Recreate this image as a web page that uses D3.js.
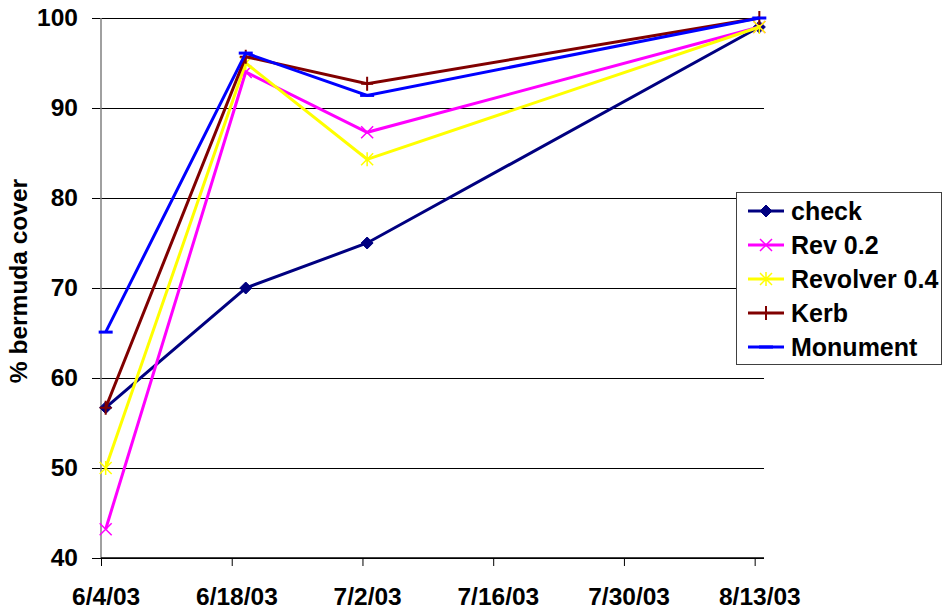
<!DOCTYPE html>
<html>
<head>
<meta charset="utf-8">
<script src="https://cdn.jsdelivr.net/npm/d3@7/dist/d3.min.js"></script>
<style>
  html, body { margin: 0; padding: 0; background: #fff; }
  svg { display: block; font-family: "Liberation Sans", Arial, sans-serif; }
</style>
</head>
<body>
<svg id="chart" width="942" height="614"></svg>
<script>
// Sampling dates (bermuda grass cover ratings)
const sampleDates = ["2003-06-04", "2003-06-19", "2003-07-02", "2003-08-13"];

// % bermuda cover per treatment
const check       = [56.7, 70.0, 75.0, 99.0];
const rev02       = [43.2, 94.0, 87.3, 99.0];
const revolver04  = [50.0, 95.0, 84.3, 99.0];
const kerb        = [56.7, 95.7, 92.7, 100.0];
const monument    = [65.1, 96.1, 91.4, 100.0];

const seriesNames = ["check", "Rev 0.2", "Revolver 0.4", "Kerb", "Monument"];

// Axis ticks
const xTickDates  = ["2003-06-04", "2003-06-18", "2003-07-02", "2003-07-16", "2003-07-30", "2003-08-13"];
const xTickLabels = ["6/4/03", "6/18/03", "7/2/03", "7/16/03", "7/30/03", "8/13/03"];
const yTicks      = [40, 50, 60, 70, 80, 90, 100];

const parse = d3.utcParse("%Y-%m-%d");
const HALF_DAY = 12 * 3600 * 1000;

const series = [
  { name: seriesNames[0], values: check,      color: "#000080", marker: "diamond" },
  { name: seriesNames[1], values: rev02,      color: "#FF00FF", marker: "x" },
  { name: seriesNames[2], values: revolver04, color: "#FFFF00", marker: "asterisk" },
  { name: seriesNames[3], values: kerb,       color: "#800000", marker: "plus" },
  { name: seriesNames[4], values: monument,   color: "#0000FF", marker: "dash" }
];

const svg = d3.select("#chart");

const x = d3.scaleUtc()
  .domain([parse("2003-06-04"), parse("2003-08-14")])
  .range([101, 764]);
const y = d3.scaleLinear().domain([40, 100]).range([558, 18]);

const halfDayPx = x(new Date(parse("2003-06-04").getTime() + HALF_DAY)) - x(parse("2003-06-04"));

// Horizontal gridlines (with outward tick marks) and y labels
const yAxis = svg.append("g")
  .attr("transform", "translate(101,0)")
  .call(d3.axisLeft(y).tickValues(yTicks).tickSize(9).tickPadding(14).tickFormat(d3.format("d")));
yAxis.select(".domain").remove();
yAxis.selectAll(".tick line").attr("x1", -9).attr("x2", 663).attr("stroke", "#000").attr("stroke-width", 1);
yAxis.selectAll(".tick text")
  .attr("font-size", 24.5).attr("font-weight", "bold").attr("fill", "#000")
  .attr("font-family", "Liberation Sans, Arial, sans-serif");

// Vertical value axis line
svg.append("line")
  .attr("x1", 101).attr("x2", 101).attr("y1", 18).attr("y2", 558)
  .attr("stroke", "#808080").attr("stroke-width", 1.5);

// Date axis
const xAxis = svg.append("g")
  .attr("transform", "translate(0,558)")
  .call(d3.axisBottom(x)
    .tickValues(xTickDates.map(parse))
    .tickSize(8).tickPadding(22)
    .tickFormat((d, i) => xTickLabels[i]));
xAxis.select(".domain").attr("stroke", "#000").attr("stroke-width", 1.5)
  .attr("d", `M101,0H764`);
xAxis.selectAll(".tick line").attr("stroke", "#000").attr("stroke-width", 1);
xAxis.selectAll(".tick text")
  .attr("font-size", 24.5).attr("font-weight", "bold").attr("fill", "#000")
  .attr("font-family", "Liberation Sans, Arial, sans-serif")
  .attr("dx", halfDayPx);

// Y axis title
svg.append("text")
  .attr("transform", "translate(27,281) rotate(-90)")
  .attr("text-anchor", "middle")
  .attr("font-size", 24.5).attr("font-weight", "bold")
  .text("% bermuda cover");

// Marker shapes
function drawMarker(g, type, color, cx, cy) {
  const m = g.append("g").attr("transform", `translate(${cx},${cy})`);
  if (type === "diamond") {
    m.append("path").attr("d", "M0,-6L6,0L0,6L-6,0Z").attr("fill", color).attr("stroke", color).attr("stroke-width", 1);
  } else if (type === "x") {
    m.append("path").attr("d", "M-6,-6L6,6M-6,6L6,-6").attr("stroke", color).attr("stroke-width", 1.5);
  } else if (type === "asterisk") {
    m.append("path").attr("d", "M-6,-6L6,6M-6,6L6,-6M0,-7L0,7").attr("stroke", color).attr("stroke-width", 1.5);
  } else if (type === "plus") {
    m.append("path").attr("d", "M-6,0L6,0M0,-7L0,7").attr("stroke", color).attr("stroke-width", 2);
  } else if (type === "dash") {
    m.append("path").attr("d", "M-7,0L7,0").attr("stroke", color).attr("stroke-width", 3);
  }
}

// Series lines and markers
const px = i => x(new Date(parse(sampleDates[i]).getTime() + HALF_DAY));
const line = d3.line().x((d, i) => px(i)).y(d => y(d));

const plot = svg.append("g");
series.forEach(s => {
  plot.append("path")
    .attr("d", line(s.values))
    .attr("fill", "none")
    .attr("stroke", s.color)
    .attr("stroke-width", 3)
    .attr("stroke-linejoin", "miter");
  s.values.forEach((v, i) => drawMarker(plot, s.marker, s.color, px(i), y(v)));
});

// Legend
const legend = svg.append("g");
legend.append("rect")
  .attr("x", 736.5).attr("y", 192.5).attr("width", 205).attr("height", 172)
  .attr("fill", "#fff").attr("stroke", "#404040").attr("stroke-width", 1);
const rowY = d3.scalePoint().domain(seriesNames).range([211, 347]);
series.forEach(s => {
  const ry = rowY(s.name);
  legend.append("line")
    .attr("x1", 748).attr("x2", 784).attr("y1", ry).attr("y2", ry)
    .attr("stroke", s.color).attr("stroke-width", 3);
  drawMarker(legend, s.marker, s.color, 766, ry);
  legend.append("text")
    .attr("x", 791).attr("y", ry).attr("dy", "0.35em")
    .attr("font-size", 25).attr("font-weight", "bold")
    .text(s.name);
});
</script>
</body>
</html>
